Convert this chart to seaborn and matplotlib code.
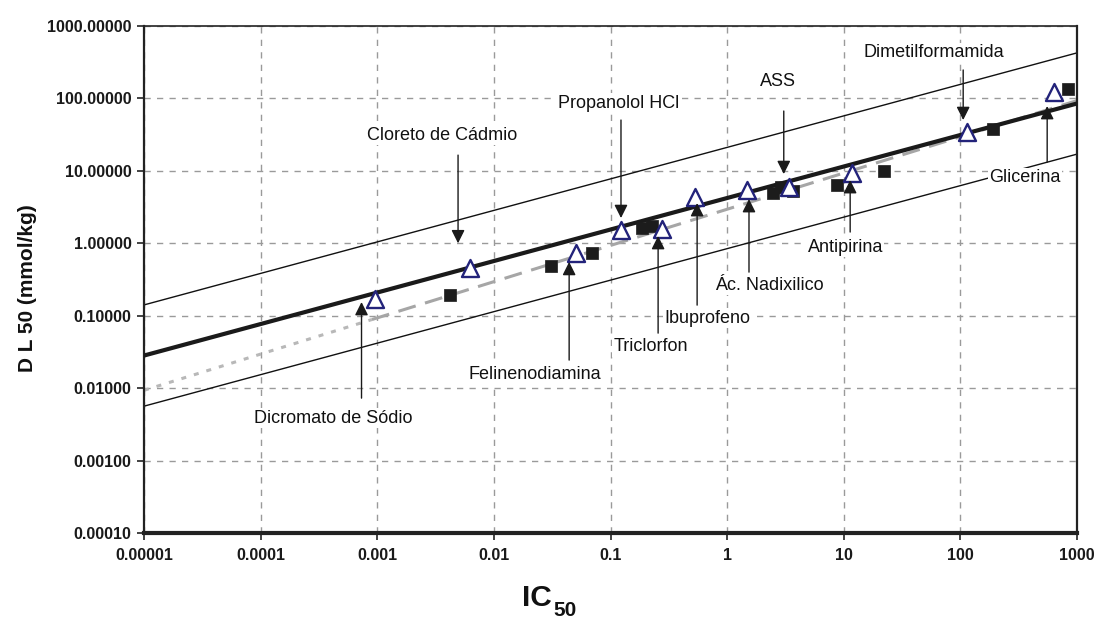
import numpy as np
import matplotlib
matplotlib.use("Agg")
import matplotlib.pyplot as plt
import seaborn as sns
from matplotlib import font_manager
from matplotlib.ticker import FixedLocator, FixedFormatter, NullLocator

# ---------------- data ----------------
# open triangles (labelled substances)
tri_ic50 = [0.00096, 0.0063, 0.051, 0.123, 0.275, 0.53, 1.48, 3.36, 11.7, 114, 630]
tri_ld50 = [0.17, 0.46, 0.73, 1.53, 1.56, 4.36, 5.45, 6.05, 9.27, 34.8, 124]
# filled squares
sq_ic50 = [0.0042, 0.031, 0.069, 0.185, 0.226, 2.49, 2.88, 3.7, 8.7, 22.3, 190, 845]
sq_ld50 = [0.193, 0.486, 0.73, 1.61, 1.73, 4.9, 6.05, 5.2, 6.4, 10.1, 37.6, 134]

# regression lines (log LD50 = slope * log IC50 + intercept)
reg_slope, reg_intercept, reg_band = 0.435, 0.625, 0.699
gray_slope, gray_intercept = 0.50, 0.47
gray_break = 0.0009
x_range = [1e-5, 1e3]

# annotations
ann_labels = ["Cloreto de Cádmio", "Propanolol HCl", "ASS", "Dimetilformamida",
              "Glicerina", "Antipirina", "Ác. Nadixilico", "Ibuprofeno",
              "Triclorfon", "Felinenodiamina", "Dicromato de Sódio"]
ann_text_x = [0.00363, 0.117, 2.74, 59.3, 356, 10.3, 2.28, 0.681, 0.221, 0.0223, 0.000418]
ann_text_y = [31.2, 86.4, 174, 424, 8.08, 0.887, 0.265, 0.0927, 0.0372, 0.0156, 0.00385]
ann_arrow_x = [0.00493, 0.123, 3.06, 105.7, 555, 11.35, 1.54, 0.553, 0.256, 0.0442, 0.000733]
ann_tail_y = [16.5, 50.3, 67, 247, 13.2, 1.43, 0.40, 0.14, 0.0575, 0.0244, 0.00728]
ann_tip_y = [1.0, 2.23, 9.03, 50.3, 78.5, 7.46, 4.08, 3.59, 1.26, 0.553, 0.1545]

x_ticks = [1e-5, 1e-4, 1e-3, 1e-2, 1e-1, 1, 10, 100, 1000]
x_tick_labels = ["0.00001", "0.0001", "0.001", "0.01", "0.1", "1", "10", "100", "1000"]
y_ticks = [1e-4, 1e-3, 1e-2, 1e-1, 1, 10, 100, 1000]
y_tick_labels = ["0.00010", "0.00100", "0.01000", "0.10000", "1.00000",
                 "10.00000", "100.00000", "1000.00000"]

# ---------------- style ----------------
sns.set_theme(style="white")
names = {f.name for f in font_manager.fontManager.ttflist}
narrow = "Liberation Sans Narrow" in names
tick_family = "Liberation Sans Narrow" if narrow else "Liberation Sans"
tick_size = 14 if narrow else 11.5
ylab_size = 18 if narrow else 15
plt.rcParams["font.family"] = [tick_family, "DejaVu Sans"]
plt.rcParams["lines.scale_dashes"] = False

fig = plt.figure(figsize=(10.98, 6.18), dpi=100)
ax = fig.add_axes([144 / 1098, 85 / 618, 933 / 1098, 507 / 618])
ax.set_xscale("log")
ax.set_yscale("log")


def line_y(xs, slope, intercept):
    return [10 ** (slope * np.log10(v) + intercept) for v in xs]


# bounds (factor 5)
for off in (reg_band, -reg_band):
    sns.lineplot(x=x_range, y=line_y(x_range, reg_slope, reg_intercept + off), ax=ax,
                 color="#111111", linewidth=1.0, zorder=2)
# gray dashed fit (dotted extrapolation on the left)
g_left = [x_range[0], gray_break]
g_right = [gray_break, x_range[1]]
sns.lineplot(x=g_left, y=line_y(g_left, gray_slope, gray_intercept), ax=ax,
             color="#b8b8b8", linewidth=2.2, linestyle=(0, (3.6, 5.8)), zorder=2)
sns.lineplot(x=g_right, y=line_y(g_right, gray_slope, gray_intercept), ax=ax,
             color="#a6a6a6", linewidth=2.2, linestyle=(0, (13, 7)), zorder=2)
# thick regression line
sns.lineplot(x=x_range, y=line_y(x_range, reg_slope, reg_intercept), ax=ax,
             color="#1a1a1a", linewidth=3.0, zorder=3)

# markers
sns.scatterplot(x=sq_ic50, y=sq_ld50, ax=ax, marker="s", s=72, color="#1c1c1c",
                edgecolor="#1c1c1c", linewidth=0.5, zorder=4)
sns.scatterplot(x=tri_ic50, y=tri_ld50, ax=ax, marker="^", s=150, color="white",
                edgecolor="#23237a", linewidth=1.7, zorder=5)

# annotations
for lab, tx, ty, axx, tail, tip in zip(ann_labels, ann_text_x, ann_text_y,
                                        ann_arrow_x, ann_tail_y, ann_tip_y):
    ax.text(tx, ty, lab, ha="center", va="center", fontsize=13,
            family=["Liberation Sans", "DejaVu Sans"], color="#111111",
            bbox=dict(facecolor="white", edgecolor="none", pad=1.0), zorder=6)
    ax.annotate("", xy=(axx, tip), xytext=(axx, tail),
                arrowprops=dict(arrowstyle="-|>,head_length=0.4,head_width=0.2",
                                color="#1a1a1a", lw=1.0, shrinkA=0, shrinkB=0,
                                mutation_scale=20), zorder=7)

ax.set_xlim(x_range)
ax.set_ylim(1e-4, 1e3)

ax.grid(True, which="major", color="#9a9a9a", linestyle=(0, (4.5, 4.5)), linewidth=1.0)
ax.set_axisbelow(True)

ax.xaxis.set_major_locator(FixedLocator(x_ticks))
ax.xaxis.set_major_formatter(FixedFormatter(x_tick_labels))
ax.yaxis.set_major_locator(FixedLocator(y_ticks))
ax.yaxis.set_major_formatter(FixedFormatter(y_tick_labels))
ax.xaxis.set_minor_locator(NullLocator())
ax.yaxis.set_minor_locator(NullLocator())
ax.tick_params(axis="both", which="major", bottom=True, left=True, direction="out",
               length=5, width=1.2, color="#222222", labelsize=tick_size,
               labelcolor="#1a1a1a")
ax.tick_params(axis="x", pad=6)
ax.tick_params(axis="y", pad=4)
for lab in ax.get_xticklabels() + ax.get_yticklabels():
    lab.set_fontweight("bold")

for side, lw in (("top", 1.2), ("right", 1.6), ("left", 1.6), ("bottom", 3.0)):
    ax.spines[side].set_color("#222222")
    ax.spines[side].set_linewidth(lw)

ax.set_xlabel("")
ax.set_ylabel("D L 50 (mmol/kg)", fontsize=ylab_size, fontweight="bold", color="#111111")
ax.yaxis.set_label_coords((28 - 144) / 933, (533 - 288.5) / 507)
ax.yaxis.label.set_va("center")

fig.text(522 / 1098, 1 - 606.5 / 618, "IC", fontsize=21.5, fontweight="bold",
         family=["Liberation Sans", "DejaVu Sans"], ha="left", va="baseline", color="#111111")
fig.text(553 / 1098, 1 - 616 / 618, "50", fontsize=15, fontweight="bold",
         family=["Liberation Sans", "DejaVu Sans"], ha="left", va="baseline", color="#111111")

fig.savefig("out.png", dpi=100)
